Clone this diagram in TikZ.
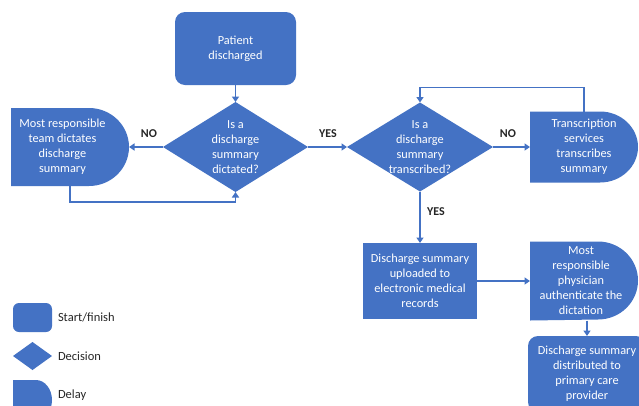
\documentclass[tikz,border=0pt]{standalone}
\usepackage{fontspec}
\setmainfont{Carlito}
\usetikzlibrary{arrows.meta}
\definecolor{fc}{HTML}{4472C4}
\definecolor{tc}{HTML}{262626}
\begin{document}
\begin{tikzpicture}[x=1pt,y=-1pt,
  every node/.style={font=\fontsize{12.3}{15}\selectfont, align=center, outer sep=0pt},
  term/.style={rectangle, fill=fc, text=white, rounded corners=#1, inner sep=2pt},
  procbox/.style={rectangle, fill=fc, text=white, inner sep=2pt},
  decision/.style={rectangle, text=white, inner sep=0pt,
    path picture={\fill[fc] (path picture bounding box.north) -- (path picture bounding box.east)
      -- (path picture bounding box.south) -- (path picture bounding box.west) -- cycle;}},
  delay/.style n args={2}{rectangle, text=white, inner sep=2pt,
    path picture={\fill[fc] (path picture bounding box.south west) -- (path picture bounding box.north west)
      -- ([xshift=-#1]path picture bounding box.north east)
      arc[start angle=90, end angle=-90, x radius=#1, y radius=#2] -- cycle;}},
  arr/.style={draw=fc, line width=1.9pt, -{Triangle[length=5.5pt,width=7pt]}},
  lab/.style={font=\fontsize{12}{15}\selectfont\bfseries, text=tc, inner sep=0pt},
  legtext/.style={font=\fontsize{12.5}{15}\selectfont, text=tc, anchor=west, inner sep=0pt}
]
\useasboundingbox (0,0) rectangle (639,405);
\clip (0,0) rectangle (639,405);
\fill[white] (0,0) rectangle (639,405);

% main flow
\node[term=10pt, minimum width=121pt, minimum height=73pt] (start) at (235.5,48.5) {Patient\\discharged};
\node[decision, minimum width=145pt, minimum height=90pt] (dia1) at (235.5,147) {Is a\\discharge\\summary\\dictated?};
\node[delay={40pt}{39pt}, minimum width=118pt, minimum height=78pt] (del1) at (70,147)
  {\begin{tabular}{@{}c@{\hspace{15pt}}}Most responsible\\team dictates\\discharge\\summary\end{tabular}};
\node[decision, minimum width=146pt, minimum height=89pt] (dia2) at (420,147) {Is a\\discharge\\summary\\transcribed?};
\node[delay={38pt}{35.5pt}, minimum width=108pt, minimum height=71pt] (trans) at (584,147) {Transcription\\services\\transcribes\\summary};
\node[procbox, minimum width=114pt, minimum height=76pt] (upl) at (420,281) {Discharge summary\\uploaded to\\electronic medical\\records};
\node[delay={40pt}{39pt}, minimum width=108pt, minimum height=78pt] (del2) at (584,281)
  {\begin{tabular}{@{}c@{\hspace{6pt}}}Most\\responsible\\physician\\authenticate the\\dictation\end{tabular}};
\node[term=10pt, minimum width=118pt, minimum height=76pt] (dist) at (587,374) {Discharge summary\\distributed to\\primary care\\provider};

% connectors
\draw[arr] (start.south) -- (dia1.north);
\draw[arr] (dia1.west) -- (del1.east);
\draw[arr] (del1.south) -- ++(0,16) -| (dia1.south);
\draw[arr] (dia1.east) -- (dia2.west);
\draw[arr] (dia2.east) -- (trans.west);
\draw[arr] (trans.north) -- ++(0,-24) -| (dia2.north);
\draw[arr] (dia2.south) -- (upl.north);
\draw[arr] (upl.east) -- (del2.west);
\draw[arr] (dist.north |- del2.south) -- (dist.north);

% labels
\node[lab] (no1) at (149,134) {NO};
\node[lab] (yes1) at (328,134) {YES};
\node[lab] (no2) at (508,134) {NO};
\node[lab] (yes2) at (436,212) {YES};

% legend
\node[term=6pt, minimum width=39pt, minimum height=29pt] (lstart) at (32.5,317.5) {};
\node[decision, minimum width=39pt, minimum height=28pt] (ldec) at (32.5,356) {};
\node[delay={16pt}{20pt}, minimum width=39pt, minimum height=40pt] (ldel) at (32.5,400) {};
\node[legtext] (tstart) at (58,317.5) {Start/finish};
\node[legtext] (tdec) at (58,356) {Decision};
\node[legtext] (tdel) at (58,395) {Delay};
\end{tikzpicture}
\end{document}
